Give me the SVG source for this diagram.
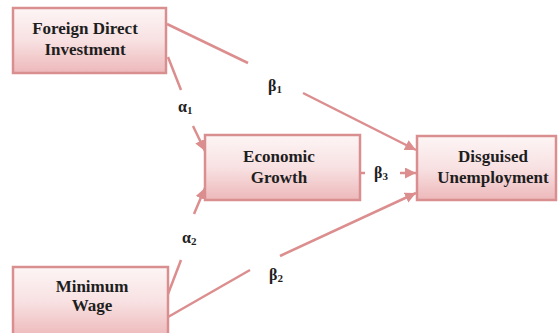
<svg xmlns="http://www.w3.org/2000/svg" width="558" height="333" viewBox="0 0 558 333">
<defs>
<linearGradient id="g" x1="0" y1="0" x2="0" y2="1">
<stop offset="0" stop-color="#fdf5f5"/>
<stop offset="0.5" stop-color="#f8e1e2"/>
<stop offset="1" stop-color="#edb8ba"/>
</linearGradient>
<marker id="ah" viewBox="0 0 10 10" refX="10" refY="5" markerWidth="11" markerHeight="11" markerUnits="userSpaceOnUse" orient="auto">
<path d="M0,0 L10,5 L0,10 Z" fill="#dc8e8f"/>
</marker>
<style>
.box{fill:url(#g);stroke:#d98e90;stroke-width:2.5}
.t{font-weight:bold;font-size:17px;fill:#1e1e1e;text-anchor:middle}
.c{stroke:#dc8e8f;stroke-width:2.5;fill:none}
.l{font-weight:bold;font-size:16px;fill:#1e1e1e}
.s{font-size:11px}
</style>
</defs>
<rect width="558" height="333" fill="#fff"/>
<g id="connectors">
<line class="c" x1="167" y1="24" x2="248" y2="63"/>
<line class="c" x1="303" y1="93" x2="416" y2="150" marker-end="url(#ah)"/>
<line class="c" x1="168" y1="57" x2="181" y2="90"/>
<line class="c" x1="193" y1="126" x2="205" y2="151" marker-end="url(#ah)"/>
<line class="c" x1="168" y1="294" x2="181" y2="260"/>
<line class="c" x1="194" y1="214" x2="205" y2="188" marker-end="url(#ah)"/>
<line class="c" x1="168" y1="317" x2="250" y2="270"/>
<line class="c" x1="280" y1="256" x2="416" y2="193" marker-end="url(#ah)"/>
<line class="c" x1="361" y1="173" x2="365" y2="173"/>
<line class="c" x1="400" y1="173" x2="416" y2="173" marker-end="url(#ah)"/>
<text class="l" font-family="Liberation Serif" x="268" y="91">β<tspan class="s" dy="2">1</tspan></text>
<text class="l" font-family="Liberation Serif" x="178" y="112">α<tspan class="s" dy="2">1</tspan></text>
<text class="l" font-family="Liberation Serif" x="182" y="243">α<tspan class="s" dy="2">2</tspan></text>
<text class="l" font-family="Liberation Serif" x="269" y="280">β<tspan class="s" dy="2">2</tspan></text>
<text class="l" font-family="Liberation Serif" x="374" y="178">β<tspan class="s" dy="2">3</tspan></text>
</g>
<g id="fdi">
<rect class="box" x="13" y="8" width="153" height="65"/>
<text class="t" font-family="Liberation Serif" x="85" y="34">Foreign Direct</text>
<text class="t" font-family="Liberation Serif" x="85" y="55">Investment</text>
</g>
<g id="growth">
<rect class="box" x="205" y="135" width="155" height="65"/>
<text class="t" font-family="Liberation Serif" x="279" y="162">Economic</text>
<text class="t" font-family="Liberation Serif" x="279" y="183">Growth</text>
</g>
<g id="unemployment">
<rect class="box" x="417" y="136" width="139" height="64"/>
<text class="t" font-family="Liberation Serif" x="493" y="162">Disguised</text>
<text class="t" font-family="Liberation Serif" x="493" y="183">Unemployment</text>
</g>
<g id="wage">
<rect class="box" x="13" y="267" width="155" height="70"/>
<text class="t" font-family="Liberation Serif" x="92" y="292">Minimum</text>
<text class="t" font-family="Liberation Serif" x="92" y="311">Wage</text>
</g>
</svg>
